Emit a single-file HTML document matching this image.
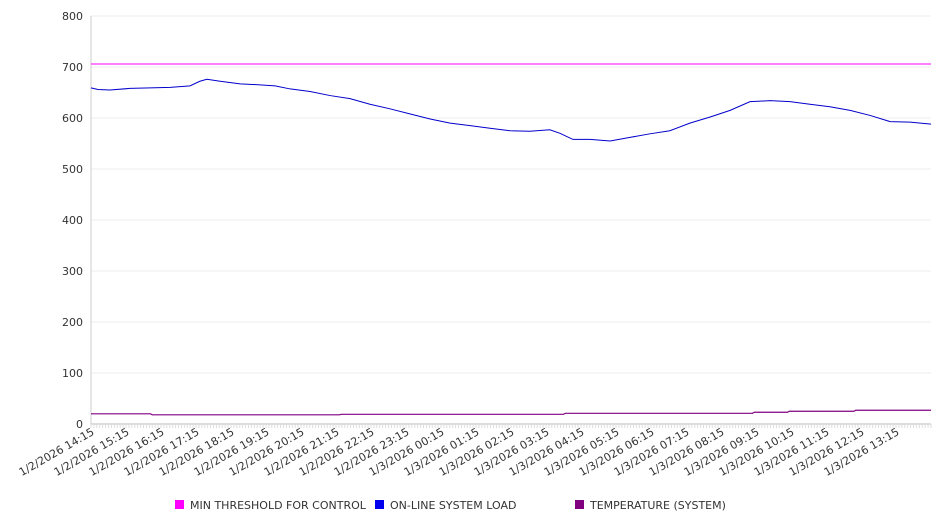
<!DOCTYPE html>
<html><head><meta charset="utf-8"><style>
body{margin:0;background:#fff;font-family:"DejaVu Sans","Liberation Sans",sans-serif;}
svg text{font-family:"DejaVu Sans","Liberation Sans",sans-serif;fill:#333;font-size:11px;}
</style></head><body>
<svg id="c" width="946" height="526"></svg>
<script>
const yTicks=[0,100,200,300,400,500,600,700,800];
const xLabels=["1/2/2026 14:15","1/2/2026 15:15","1/2/2026 16:15","1/2/2026 17:15","1/2/2026 18:15","1/2/2026 19:15","1/2/2026 20:15","1/2/2026 21:15","1/2/2026 22:15","1/2/2026 23:15","1/3/2026 00:15","1/3/2026 01:15","1/3/2026 02:15","1/3/2026 03:15","1/3/2026 04:15","1/3/2026 05:15","1/3/2026 06:15","1/3/2026 07:15","1/3/2026 08:15","1/3/2026 09:15","1/3/2026 10:15","1/3/2026 11:15","1/3/2026 12:15","1/3/2026 13:15"];
const loadHours=[0,0.2,0.54,1.11,1.69,2.26,2.83,3.11,3.31,3.69,4.26,4.83,5.26,5.69,6.26,6.83,7.4,7.97,8.54,9.11,9.69,10.26,10.83,11.4,11.97,12.54,13.11,13.4,13.77,14.26,14.83,15.4,15.97,16.54,17.11,17.69,18.26,18.83,19.4,19.97,20.54,21.11,21.69,22.26,22.83,23.4,24];
const loadValues=[659,656,655,658,659,660,663,672,676,672,667,665,663,657,652,644,638,627,618,608,598,590,585,580,575,574,577,570,558,558,555,562,569,575,590,602,615,632,634,632,627,622,615,605,593,592,588];
const tempHours=[0,1.7,1.75,7.1,7.15,13.5,13.55,18.9,18.95,19.9,19.95,21.8,21.85,24];
const tempValues=[20,20,18,18,19,19,21,21,23,23,25,25,27,27];
const threshold=706;
const NS="http://www.w3.org/2000/svg",svg=document.getElementById('c');
const L=91,R=931,T=16,B=424;
const xs=h=>L+(R-L)*h/24, ys=v=>B-(B-T)*v/800;
function mk(t,a,p){const e=document.createElementNS(NS,t);for(const k in a)e.setAttribute(k,a[k]);(p||svg).appendChild(e);return e;}
yTicks.forEach(v=>{
 const g=mk('line',{x1:L,x2:R,y1:ys(v),y2:ys(v),stroke:v?'#eeeeee':'#bbb'});
 
 
 const t=mk('text',{x:83,y:ys(v)+4,'text-anchor':'end'});t.textContent=v;
 
 
});
mk('line',{x1:L,x2:L,y1:T,y2:B,stroke:'#ccc'});
for(let i=0;i<=24*12;i++){mk('line',{x1:xs(i/12),x2:xs(i/12),y1:B,y2:B+4,stroke:'#ddd'});}
xLabels.forEach((s,i)=>{
 const x=xs(i)+4,y=B+10;
 const t=mk('text',{x:x,y:y,'text-anchor':'end',transform:`rotate(-30 ${x} ${y})`});t.textContent=s;
 
 
});
const th=mk('line',{x1:L,x2:R,y1:ys(threshold),y2:ys(threshold),stroke:'#ff00ff','stroke-width':1});


const ld=mk('polyline',{points:loadHours.map((h,i)=>xs(h)+','+ys(loadValues[i])).join(' '),fill:'none',stroke:'#0000cc','stroke-width':1});


const tp=mk('polyline',{points:tempHours.map((h,i)=>xs(h)+','+ys(tempValues[i])).join(' '),fill:'none',stroke:'#800080','stroke-width':1.2});


const leg=[["MIN THRESHOLD FOR CONTROL","#ff00ff",175],["ON-LINE SYSTEM LOAD","#0000ee",375],["TEMPERATURE (SYSTEM)","#800080",575]];
leg.forEach(l=>{
 const g=mk('g',{});
 
 
 mk('rect',{x:l[2],y:500,width:9,height:9,fill:l[1]},g);
 const t=mk('text',{x:l[2]+15,y:509},g);t.textContent=l[0];
});
</script>
</body></html>
